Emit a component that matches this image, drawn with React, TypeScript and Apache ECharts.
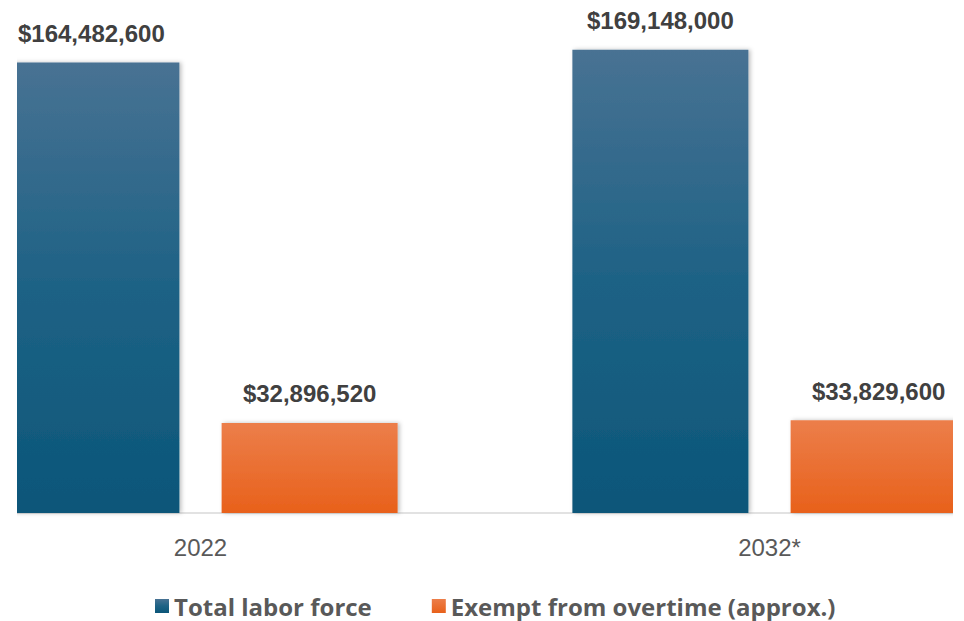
import React, { useEffect, useRef } from "react";
import * as echarts from "echarts";

const categories = ["2022", "2032*"];
const totalLaborForce = [164482600, 169148000];
const exemptFromOvertime = [32896520, 33829600];
const seriesNames = ["Total labor force", "Exempt from overtime (approx.)"];

const fmt = (v: number) => "$" + v.toLocaleString("en-US");

export default function App() {
  const ref = useRef<HTMLDivElement>(null);
  useEffect(() => {
    if (!ref.current) return;
    const chart = echarts.init(ref.current, undefined, { renderer: "svg" });
    const labelStyle = {
      show: true,
      position: "top" as const,
      distance: 17,
      fontFamily: "Liberation Sans",
      fontWeight: "bold" as const,
      fontSize: 24,
      color: "#404040",
      formatter: (p: any) => fmt(p.value),
    };
    chart.setOption({
      animation: false,
      backgroundColor: "#ffffff",
      grid: { left: 0, right: 0, top: 20, bottom: 108, containLabel: false },
      legend: {
        data: seriesNames,
        bottom: -2,
        left: 234,
        icon: "rect",
        itemWidth: 14,
        itemHeight: 14,
        itemGap: 60,
        textStyle: {
          fontFamily: "Open Sans",
          fontWeight: "bold",
          fontSize: 24,
          color: "#595959",
        },
      },
      xAxis: {
        type: "category",
        data: categories,
        axisLine: { lineStyle: { color: "#d9d9d9", width: 1.5 } },
        axisTick: { show: false },
        axisLabel: {
          margin: 22,
          fontFamily: "Liberation Sans",
          fontSize: 24,
          color: "#595959",
        },
      },
      yAxis: {
        type: "value",
        min: 0,
        max: 180000000,
        show: false,
        splitLine: { show: false },
      },
      series: [
        {
          name: seriesNames[0],
          type: "bar",
          data: totalLaborForce,
          barWidth: 176,
          barGap: "24%",
          label: labelStyle,
          itemStyle: {
            color: new echarts.graphic.LinearGradient(0, 0, 0, 1, [
              { offset: 0, color: "#487293" },
              { offset: 0.5, color: "#1e6285" },
              { offset: 1, color: "#0b5679" },
            ]),
            shadowColor: "rgba(0,0,0,0.25)",
            shadowBlur: 4,
            shadowOffsetX: 2,
          },
        },
        {
          name: seriesNames[1],
          type: "bar",
          data: exemptFromOvertime,
          barWidth: 176,
          label: labelStyle,
          itemStyle: {
            color: new echarts.graphic.LinearGradient(0, 0, 0, 1, [
              { offset: 0, color: "#ec7e4a" },
              { offset: 1, color: "#e8611b" },
            ]),
            shadowColor: "rgba(0,0,0,0.25)",
            shadowBlur: 4,
            shadowOffsetX: 2,
          },
        },
      ],
    });
    return () => chart.dispose();
  }, []);

  return (
    <div
      style={{
        position: "absolute",
        left: 17,
        top: 0,
        width: 936,
        height: 621,
        overflow: "hidden",
      }}
    >
      <div
        ref={ref}
        style={{ position: "absolute", left: -101, top: 0, width: 1138, height: 621 }}
      />
    </div>
  );
}
